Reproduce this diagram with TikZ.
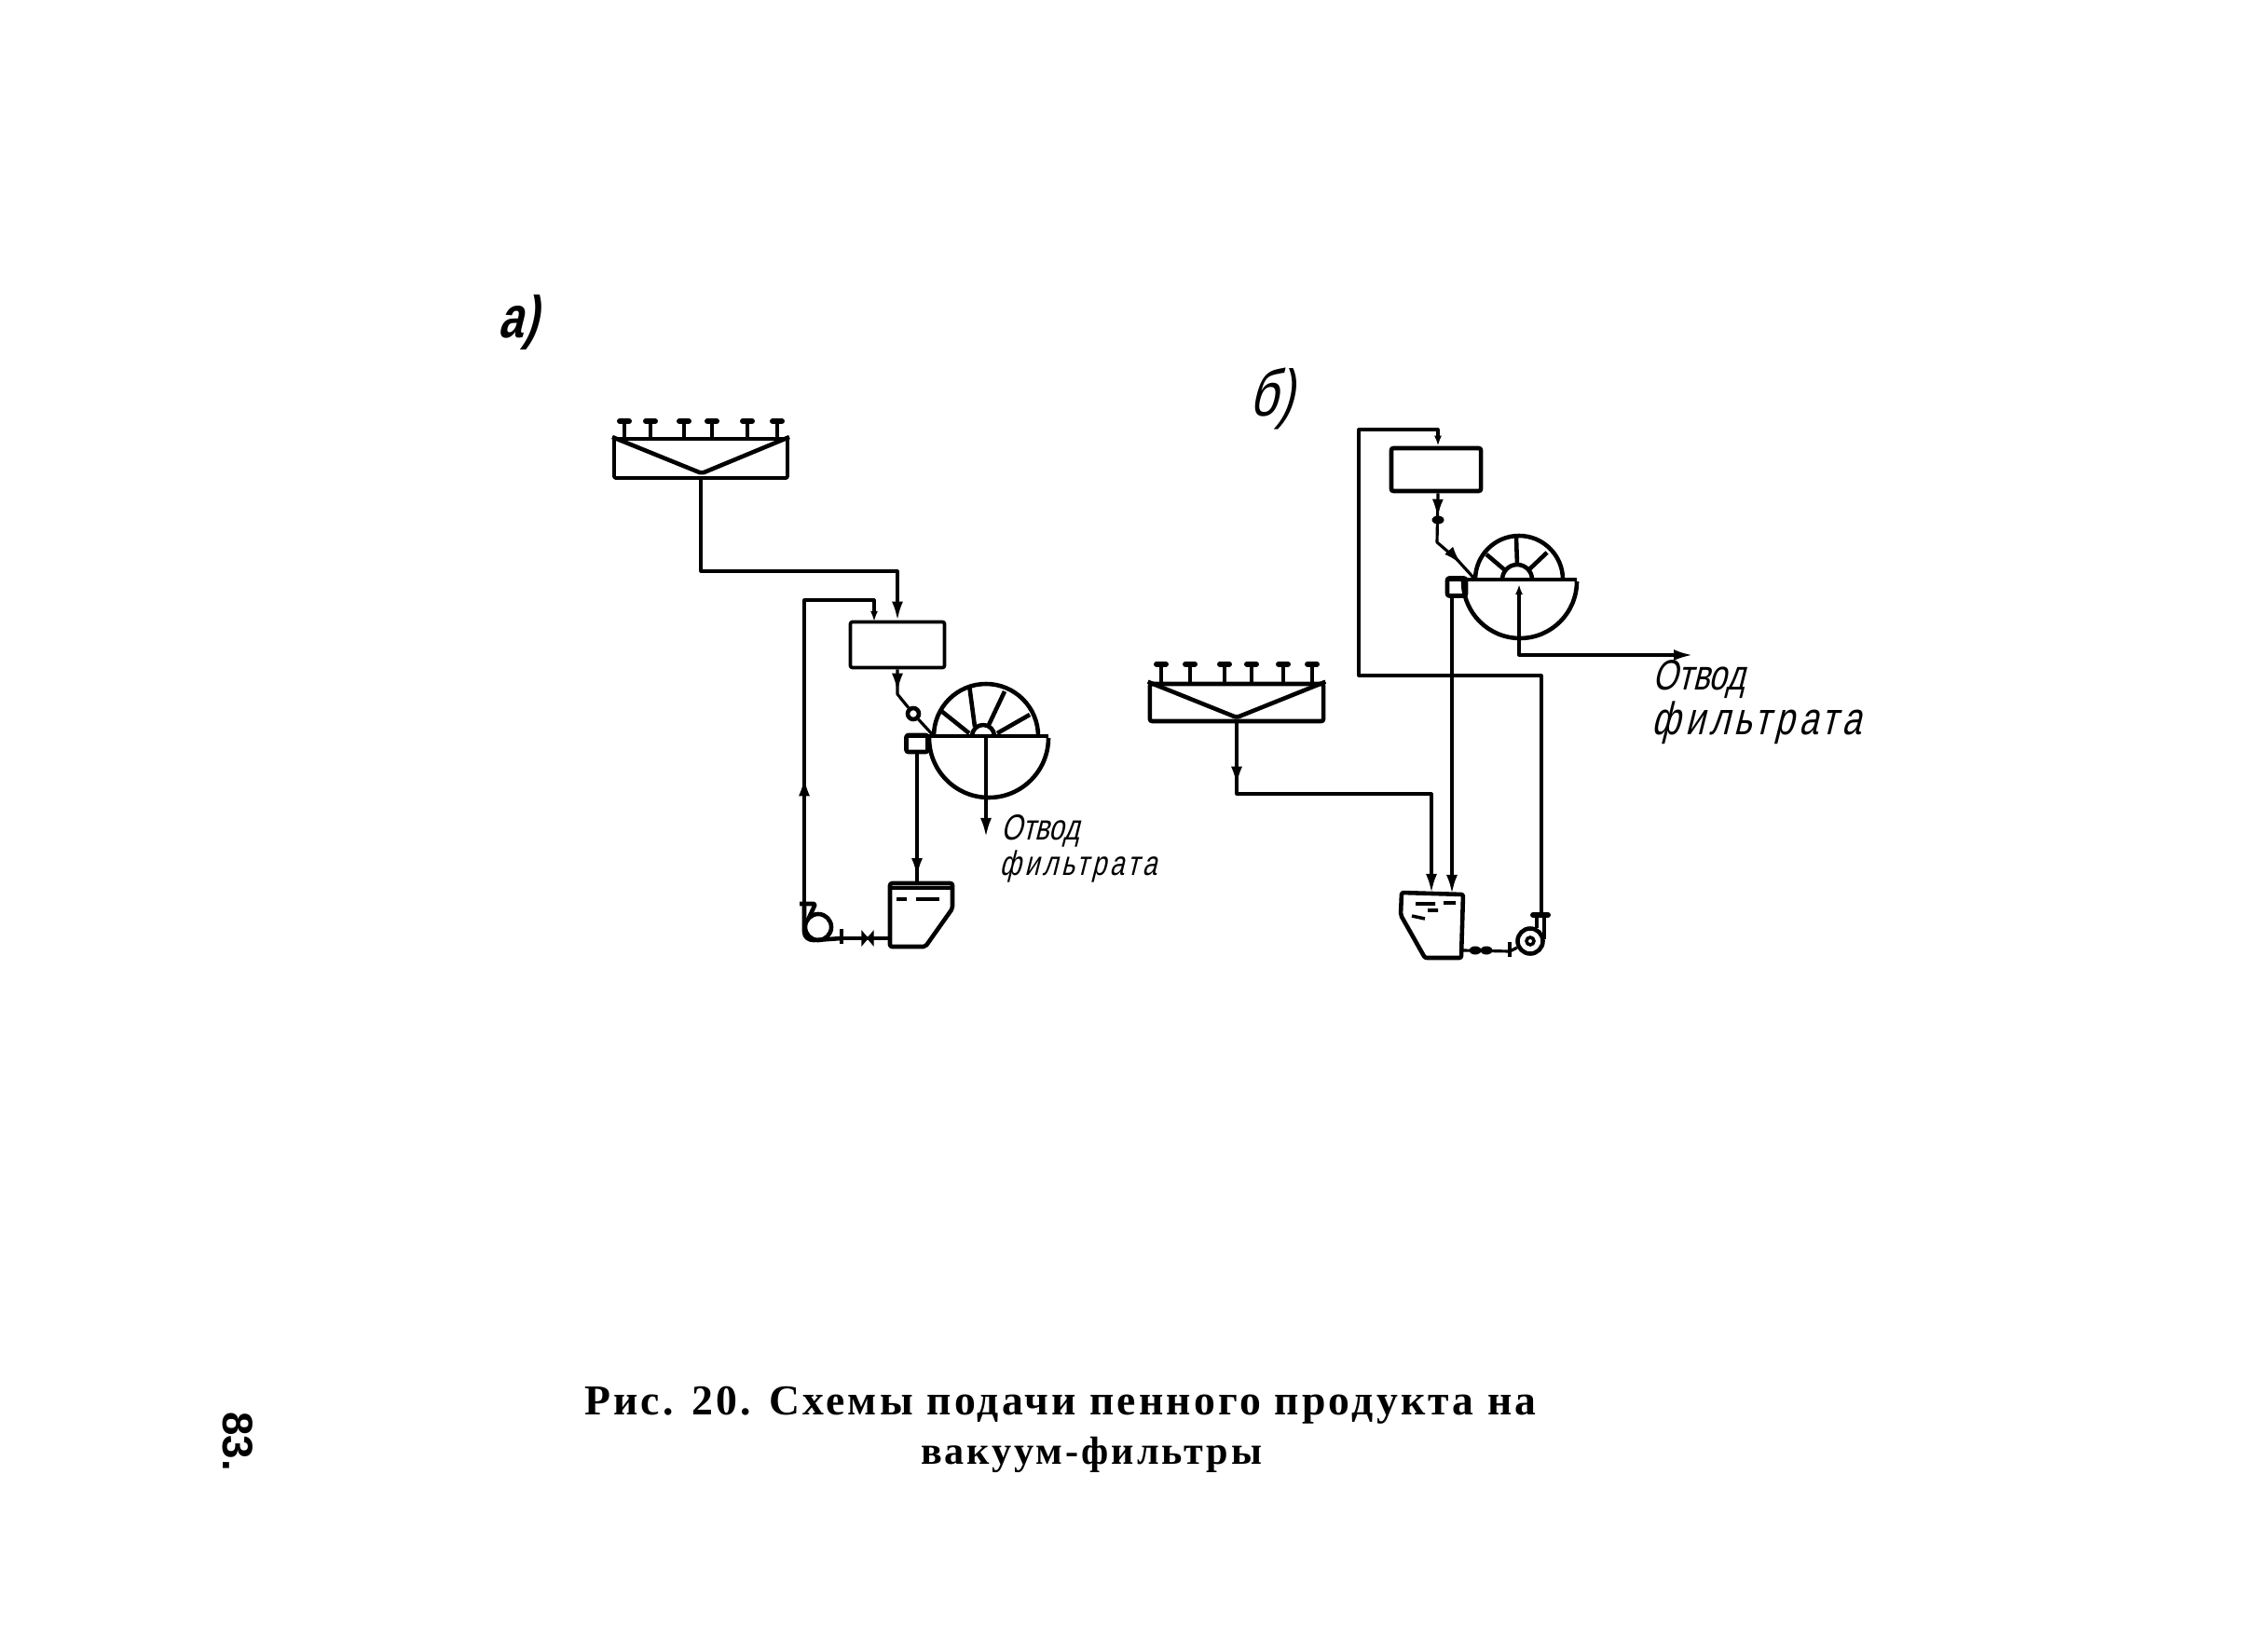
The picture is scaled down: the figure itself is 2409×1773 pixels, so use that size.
\documentclass[tikz,border=0pt]{standalone}
\usepackage{fontspec}
\setmainfont{Liberation Serif}
\setsansfont{Liberation Sans}
\newfontfamily\capfont[LetterSpace=7]{Liberation Serif}
\newfontfamily\handfont[FakeStretch=0.75, FakeSlant=0.25]{Liberation Sans}
\newfontfamily\handwide[FakeStretch=0.75, FakeSlant=0.25, LetterSpace=10.5]{Liberation Sans}
\usepackage{tikz}
\usetikzlibrary{arrows.meta, positioning, decorations.markings, shapes.geometric}
\tikzset{
    pipe/.style={line width=0.9pt, line join=round},
    wall/.style={line width=1.3pt, line join=round, rounded corners=0.6pt},
    vessel/.style={draw, wall, rectangle, inner sep=0pt, minimum width=#1},
    head/.style={-{Latex[length=0.2cm, width=0.12cm]}},
    smallhead/.style={-{Latex[length=0.11cm, width=0.08cm]}},
    flow/.style={postaction={decorate, decoration={markings, mark=at position #1 with {\arrow{Latex[length=0.2cm, width=0.12cm]}}}}},
    nozzle/.style={line width=1pt},
    nozzlecap/.style={line width=1.7pt, line cap=round},
    hand/.style={font=\handfont\fontsize{#1}{#1}\selectfont, inner sep=0pt, anchor=west},
    handlong/.style={font=\handwide\fontsize{#1}{#1}\selectfont, inner sep=0pt, anchor=west},
    valve/.style={ellipse, fill=black, inner sep=0pt, minimum width=0.13cm, minimum height=0.09cm},
}
\begin{document}
\begin{tikzpicture}[x=0.01cm, y=-0.01cm]
    \useasboundingbox (0,0) rectangle (2409,1773);

    % scheme a
    \node[font=\handfont\bfseries\fontsize{18}{20}\selectfont] (labelA) at (556, 346) {а)};
    \node[vessel=1.86cm, minimum height=0.42cm, line width=1.1pt] (colA) at (752, 492) {};
    \coordinate (apexA) at (753, 508);
    \draw[wall] (colA.north west) -- (apexA) -- (colA.north east);
    \foreach \x in {670, 698, 734, 764, 802, 834} {
        \draw[nozzle] (\x,0 |- colA.north) -- ++(0,-15);
        \draw[nozzlecap] (\x,0 |- colA.north) ++(-5,-17) -- ++(10,0);
    }
    \node[vessel=1.01cm, minimum height=0.49cm, line width=1.05pt] (boxA) at (963, 692) {};
    \draw[pipe, head] (colA.south) |- (800, 613) -| (boxA.north);
    \coordinate (backA) at (938, 667);
    \coordinate (flangeA) at (863, 970);
    \draw[pipe, flow=0.32, smallhead] (flangeA) |- (900, 644) -| (backA);

    % drum a
    \coordinate (drumA) at (1058, 792);
    \coordinate (rimA) at (1002, 790);
    \draw[wall] (rimA) arc[start angle=180, end angle=360, radius=56];
    \draw[wall] (972, 790) -- (1125, 790);
    \draw[wall] (997, 792) arc[start angle=180, end angle=0, radius=64];
    \draw[wall] (1043, 790) arc[start angle=180, end angle=360, radius=12];
    \draw[wall] (1040, 787) -- (1010, 763) (1046, 780) -- (1040, 735) (1060, 780) -- (1078, 742) (1070, 787) -- (1105, 767);
    \node[vessel=0.23cm, minimum height=0.18cm] (troughA) at (984, 798) {};
    \node[circle, draw, line width=1.3pt, fill=white, inner sep=0pt, minimum size=0.12cm] (cockA) at (980, 766) {};
    \draw[pipe, flow=0.35] (boxA.south) -- (963, 745) -- (cockA) -- (rimA);
    \coordinate (outA) at (1058, 898);
    \draw[pipe, head] (drumA) -- (outA);

    % tank a
    \coordinate (tankA) at (984, 948);
    \draw[wall] (955, 948) -- (1022, 948) -- (1022, 975) -- (993, 1016) -- (955, 1016) -- cycle;
    \draw[pipe] (957, 953) -- (1021, 953);
    \draw[nozzle] (962, 965) -- (973, 965) (983, 965) -- (1008, 965);
    \draw[pipe, flow=0.95] (troughA.south) -- (tankA);

    % pump a
    \node[circle, draw, wall, inner sep=0pt, minimum size=0.28cm] (pumpA) at (878, 995) {};
    \draw[wall] (858, 970) -- (875, 970) -- (868, 985);
    \coordinate (outletA) at (903, 1007);
    \draw[wall] (flangeA) -- (863, 998) .. controls (863, 1006) and (868, 1009) .. (875, 1009) -- (outletA);
    \draw[wall] (903, 997) -- (903, 1013);
    \draw[pipe] (outletA) -- (955, 1007);
    \draw[fill=black] (925, 1000) -- (937, 1014) -- (937, 1000) -- (925, 1014) -- cycle;

    \node[hand=11] (otvodA) at (1074, 892) {Отвод};
    \node[handlong=10.5] (filtrA) at (1072, 930) {фильтрата};

    % scheme b
    \node[font=\handfont\fontsize{20}{22}\selectfont] (labelB) at (1364, 428) {б)};
    \node[vessel=1.86cm, minimum height=0.40cm] (colB) at (1327, 754) {};
    \coordinate (apexB) at (1327, 770);
    \draw[wall] (colB.north west) -- (apexB) -- (colB.north east);
    \foreach \x in {1246, 1277, 1314, 1343, 1377, 1408} {
        \draw[nozzle] (\x,0 |- colB.north) -- ++(0,-17);
        \draw[nozzlecap] (\x,0 |- colB.north) ++(-5,-19) -- ++(10,0);
    }
    \node[vessel=0.96cm, minimum height=0.46cm] (boxB) at (1541, 504) {};
    \coordinate (feedB) at (1536, 958);
    \draw[pipe, flow=0.17, head] (colB.south) |- (1450, 852) -| (feedB);

    % drum b
    \coordinate (drumB) at (1630, 627);
    \coordinate (rimB) at (1583, 622);
    \draw[wall] (rimB) arc[start angle=180, end angle=360, radius=47];
    \draw[wall] (1553, 622) -- (1692, 622);
    \draw[wall] (1570, 624) arc[start angle=180, end angle=0, radius=61];
    \draw[wall] (1612, 622) arc[start angle=180, end angle=360, radius=16];
    \draw[wall] (1628, 606) -- (1627, 577) (1615, 612) -- (1595, 595) (1640, 612) -- (1660, 593);
    \node[vessel=0.2cm, minimum height=0.19cm] (troughB) at (1563, 630) {};
    \coordinate (bendB) at (1542, 582);
    \draw[pipe, flow=0.24, flow=0.8] (boxB.south -| 1543,0) -- (bendB) -- (1563, 600) -- (rimB);
    \node[valve] (cockB) at (1543, 558) {};
    \coordinate (outB) at (1816, 703);
    \draw[pipe, smallhead] (1630, 703) -- (drumB);
    \draw[pipe, head] (1630, 680) |- (outB);

    % tank b
    \coordinate (tankB) at (1558, 959);
    \draw[wall] (1504, 958) -- (1570, 960) -- (1568, 1028) -- (1529, 1028) -- (1503, 982) -- cycle;
    \draw[nozzle] (1519, 970) -- (1540, 970) (1549, 969) -- (1562, 969) (1532, 977) -- (1543, 977) (1515, 983) -- (1529, 986);
    \draw[pipe, head] (troughB.south -| tankB) -- (tankB);

    % pump b
    \node[circle, draw, wall, inner sep=0pt, minimum size=0.27cm] (pumpB) at (1642, 1010) {};
    \node[circle, draw, nozzle, inner sep=0pt, minimum size=0.08cm] (eyeB) at (pumpB) {};
    \coordinate (topB) at (1654, 982);
    \draw[nozzlecap] (1645, 982) -- (1661, 982);
    \draw[wall] (1649, 982) -- (1649, 996) (1657, 982) -- (1657, 1008);
    \draw[pipe, smallhead] (topB) |- (1500, 725) -| (1458, 600) |- (1500, 461) -| (boxB.north -| 1543,0);
    \coordinate (outletB) at (1620, 1021);
    \draw[wall] (1620, 1011) -- (1620, 1027);
    \draw[pipe] (1570, 1020) -- (outletB) -- (pumpB);
    \node[valve] (valveB) at (1583, 1020) {};
    \node[valve] (valveC) at (1595, 1020) {};

    \node[hand=13] (otvodB) at (1773, 729) {Отвод};
    \node[handlong=14] (filtrB) at (1772, 776) {фильтрата};

    % caption
    \node[font=\capfont\bfseries\fontsize{13}{15}\selectfont, inner sep=0pt] (capOne) at (1138, 1508) {Рис. 20. Схемы подачи пенного продукта на};
    \node[font=\capfont\bfseries\fontsize{12}{14}\selectfont, inner sep=0pt] (capTwo) at (1171, 1561) {вакуум-фильтры};
    \node[font=\sffamily\bfseries\fontsize{13}{15}\selectfont, rotate=-90, inner sep=0pt] (pageNo) at (255, 1547) {83.};
\end{tikzpicture}
\end{document}
